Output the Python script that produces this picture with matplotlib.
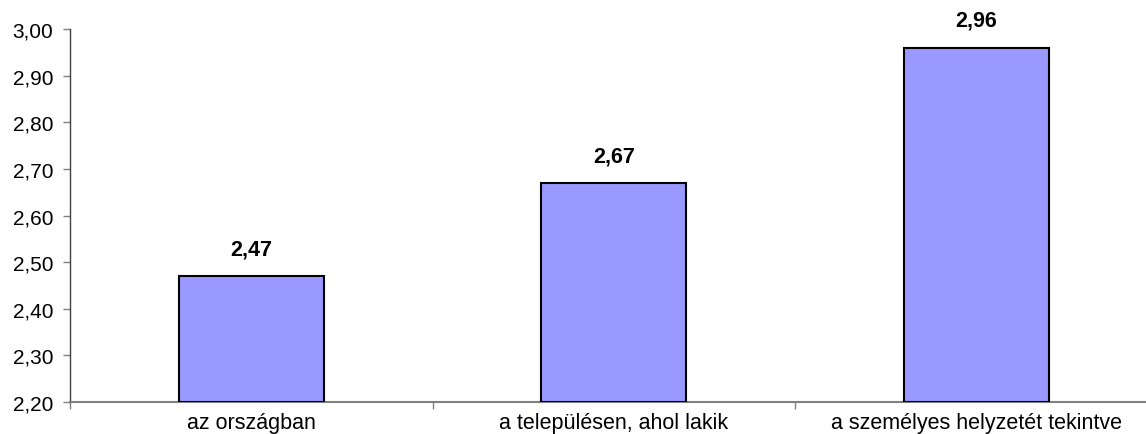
import matplotlib.pyplot as plt
from matplotlib.ticker import FuncFormatter

# adatok
categories = ["az országban", "a településen, ahol lakik", "a személyes helyzetét tekintve"]
values = [2.47, 2.67, 2.96]
yticks = [2.2, 2.3, 2.4, 2.5, 2.6, 2.7, 2.8, 2.9, 3.0]

plt.rcParams['font.family'] = ['Liberation Sans', 'DejaVu Sans']

fig = plt.figure(figsize=(11.46, 4.35), dpi=100, facecolor="white")
ax = fig.add_axes([70 / 1146, 32 / 435, 1 - 70 / 1146, (403 - 30) / 435])

x = list(range(len(categories)))
bars = ax.bar(x, [v - 2.2 for v in values], bottom=2.2, width=0.4,
              color="#9999FF", edgecolor="black", linewidth=1.5, zorder=3)

for xi, v in zip(x, values):
    ax.annotate(f"{v:.2f}".replace(".", ","), (xi, v), xytext=(0, 12),
                textcoords="offset points", ha="center", va="bottom",
                fontsize=15.5, fontweight="bold")

ax.set_ylim(2.2, 3.0)
ax.set_xlim(-0.5, 2.468)
ax.set_yticks(yticks)
ax.yaxis.set_major_formatter(FuncFormatter(lambda v, p: f"{v:.2f}".replace(".", ",")))

# kategória nevek középen, osztásjelek a kategóriák között
ax.set_xticks(x)
ax.set_xticklabels(categories)
ax.set_xticks([-0.5, 0.5, 1.5], minor=True)
ax.tick_params(axis="x", which="major", length=0, pad=7, labelsize=15.5)
ax.tick_params(axis="x", which="minor", length=5, width=1, color="#808080", direction="out")
ax.tick_params(axis="y", length=5, width=1, color="#808080", direction="out", labelsize=15, pad=7)

for s in ["top", "right"]:
    ax.spines[s].set_visible(False)
ax.spines["left"].set_color("#404040")
ax.spines["bottom"].set_color("#808080")
ax.spines["left"].set_linewidth(1)
ax.spines["bottom"].set_linewidth(1.5)

fig.savefig("out.png", dpi=100)
